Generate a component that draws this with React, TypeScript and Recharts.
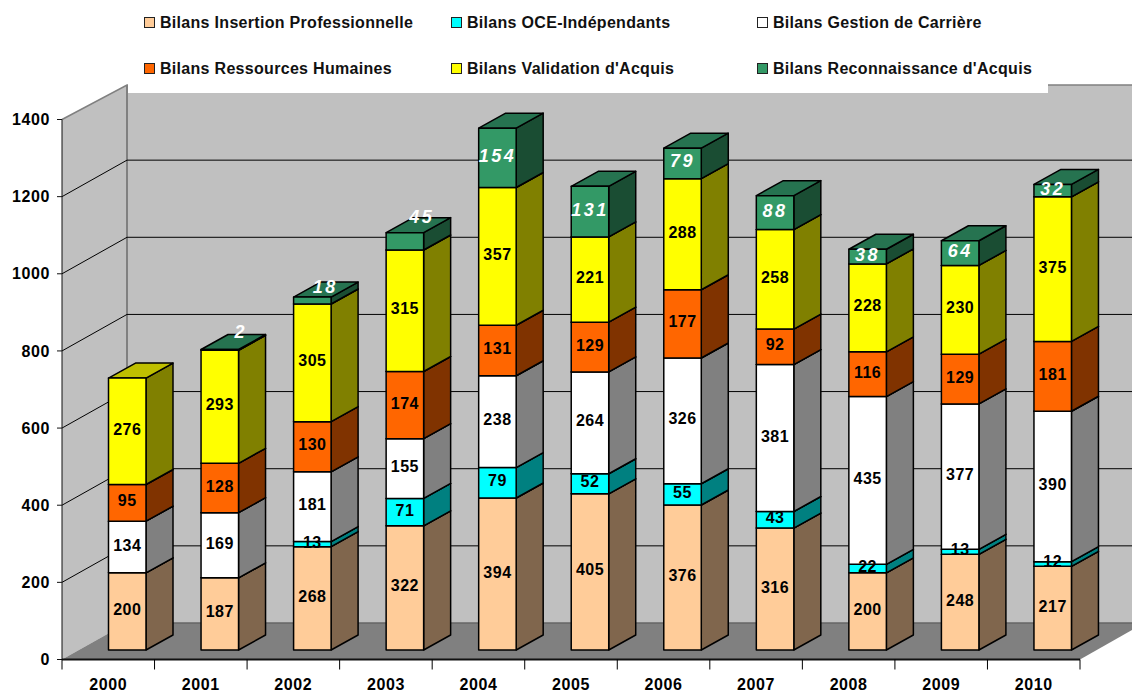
import { Bar, BarChart, CartesianGrid, LabelList, XAxis, YAxis } from "recharts";

const years = ["2000", "2001", "2002", "2003", "2004", "2005", "2006", "2007", "2008", "2009", "2010"];
const insertion = [200, 187, 268, 322, 394, 405, 376, 316, 200, 248, 217];
const oce = [0, 0, 13, 71, 79, 52, 55, 43, 22, 13, 12];
const gestion = [134, 169, 181, 155, 238, 264, 326, 381, 435, 377, 390];
const ressources = [95, 128, 130, 174, 131, 129, 177, 92, 116, 129, 181];
const validation = [276, 293, 305, 315, 357, 221, 288, 258, 228, 230, 375];
const reconnaissance = [0, 2, 18, 45, 154, 131, 79, 88, 38, 64, 32];
const yTicks = [0, 200, 400, 600, 800, 1000, 1200, 1400];

const seriesNames = [
  "Bilans Insertion Professionnelle",
  "Bilans OCE-Indépendants",
  "Bilans Gestion de Carrière",
  "Bilans Ressources Humaines",
  "Bilans Validation d'Acquis",
  "Bilans Reconnaissance d'Acquis",
];
const seriesValues = [insertion, oce, gestion, ressources, validation, reconnaissance];
const frontColors = ["#FFCC99", "#00FFFF", "#FFFFFF", "#FF6600", "#FFFF00", "#339966"];
const sideColors = ["#80664D", "#008080", "#808080", "#803300", "#808000", "#1A4D33"];
const topColors = ["#BF9973", "#00BFBF", "#BFBFBF", "#BF4D00", "#BFBF00", "#267350"];

const keys = seriesNames.map((_, i) => `s${i}`);
const rows = years.map((year, r) => {
  const row: Record<string, string | number> = { year };
  keys.forEach((k, i) => (row[k] = seriesValues[i][r]));
  return row;
});

// bars sit behind the axis plane, shifted from the band centre
const BAR_DX = 18.5;
const BAR_DY = -9.5;
const DEPTH_X = 27;
const DEPTH_Y = 15;
const WALL_DX = 65;
const WALL_DY = 36.5;
const PLOT_LEFT = 62;
const BAND = 1018 / 11;
const FONT = "'Liberation Sans', Arial, sans-serif";

// labels the author dragged off the thin top segments
const labelNudge: Record<string, [number, number]> = {
  "2001": [21, -16],
  "2002": [13, -12],
  "2003": [17, -22],
};

function makeBox(i: number) {
  return function Box(props: any) {
    const { x, y, width, height } = props;
    if (!height || height <= 0) return null;
    const l = x + BAR_DX;
    const t = y + BAR_DY;
    const r = l + width;
    const b = t + height;
    const edge = { stroke: "#000", strokeWidth: 1.5, strokeLinejoin: "round" as const };
    return (
      <g>
        <polygon
          points={`${r},${t} ${r + DEPTH_X},${t - DEPTH_Y} ${r + DEPTH_X},${b - DEPTH_Y} ${r},${b}`}
          fill={sideColors[i]}
          {...edge}
        />
        <polygon
          points={`${l},${t} ${l + DEPTH_X},${t - DEPTH_Y} ${r + DEPTH_X},${t - DEPTH_Y} ${r},${t}`}
          fill={topColors[i]}
          {...edge}
        />
        <rect x={l} y={t} width={width} height={height} fill={frontColors[i]} {...edge} />
      </g>
    );
  };
}

function makeLabel(i: number) {
  const isTop = i === 5;
  return function SegmentLabel(props: any) {
    const { value } = props;
    const box = props.viewBox ?? props;
    if (!value) return null;
    // zero segments get dropped from the index, so find the year from x
    const yearIndex = Math.floor((box.x + box.width / 2 - PLOT_LEFT) / BAND);
    const nudge = isTop ? labelNudge[years[yearIndex]] ?? [0, 0] : [0, 0];
    return (
      <text
        x={box.x + box.width / 2 + BAR_DX + nudge[0]}
        y={box.y + box.height / 2 + BAR_DY + nudge[1] - 2}
        textAnchor="middle"
        dominantBaseline="central"
        fontFamily={FONT}
        fontWeight="bold"
        fontStyle={isTop ? "italic" : "normal"}
        fontSize={isTop ? 18 : 16}
        letterSpacing={isTop ? 2.5 : 0.5}
        fill={isTop ? "#fff" : "#000"}
      >
        {value}
      </text>
    );
  };
}

function WallLine(props: any) {
  const { x1, x2, y1 } = props;
  if (y1 > 655 || y1 < 125) return null;
  return (
    <path
      d={`M${x1},${y1} L${x1 + WALL_DX},${y1 - WALL_DY} L${x2 + WALL_DX},${y1 - WALL_DY}`}
      fill="none"
      stroke="#000"
      strokeWidth={1}
    />
  );
}

function YearTick(props: any) {
  const { x, y, payload, index } = props;
  const left = x - BAND / 2;
  return (
    <g>
      <line x1={left} x2={left} y1={y - 8} y2={y + 2} stroke="#000" />
      {index === years.length - 1 && <line x1={x + BAND / 2} x2={x + BAND / 2} y1={y - 8} y2={y + 2} stroke="#000" />}
      <text x={x} y={y + 22} textAnchor="middle" fontFamily={FONT} fontWeight="bold" fontSize={16} letterSpacing={0.6} fill="#000">
        {payload.value}
      </text>
    </g>
  );
}

function LegendBlock() {
  const columns = [144, 451, 757];
  const lines = [22, 68];
  return (
    <div style={{ position: "absolute", left: 128, top: 0, width: 920, height: 93, background: "#fff" }}>
      {seriesNames.map((name, i) => (
        <div key={name}>
          <span
            style={{
              position: "absolute",
              boxSizing: "border-box",
              left: columns[i % 3] - 128,
              top: lines[Math.floor(i / 3)] - 5,
              width: 11,
              height: 11,
              background: frontColors[i],
              border: "1px solid #222",
            }}
          />
          <span
            style={{
              position: "absolute",
              left: columns[i % 3] - 128 + 16,
              top: lines[Math.floor(i / 3)] - 8,
              fontFamily: FONT,
              fontWeight: "bold",
              fontSize: 16,
              lineHeight: "18px",
              letterSpacing: 0.3,
              whiteSpace: "nowrap",
              color: "#111",
            }}
          >
            {name}
          </span>
        </div>
      ))}
    </div>
  );
}

export default function App() {
  return (
    <div style={{ position: "absolute", left: 0, top: 0, width: 1132, height: 693, background: "#fff" }}>
      {/* room behind the plot: floor and walls */}
      <svg width={1132} height={693} style={{ position: "absolute", left: 0, top: 0 }}>
        <rect x={127} y={85} width={1005} height={538} fill="#C0C0C0" />
        <polygon points="62,119.5 127,85 127,623 62,659.5" fill="#C0C0C0" />
        <polygon points="62,659.5 127,623 1132,623 1132,630 1080,659.5" fill="#808080" />
        <path d="M62,119.5 L127,85 L1132,85" fill="none" stroke="#808080" strokeWidth={1.5} />
        <line x1={127} x2={127} y1={85} y2={623} stroke="#808080" strokeWidth={2} />
        <line x1={127} x2={1132} y1={623} y2={623} stroke="#666" strokeWidth={1.5} />
      </svg>
      <BarChart
        width={1132}
        height={693}
        data={rows}
        margin={{ top: 119.5, right: 52, bottom: 0, left: 0 }}
        barSize={37.5}
        style={{ position: "absolute", left: 0, top: 0 }}
      >
        <CartesianGrid vertical={false} horizontal={WallLine} />
        <XAxis
          dataKey="year"
          height={33.5}
          stroke="#111"
          strokeWidth={2}
          tickLine={false}
          tick={YearTick}
          interval={0}
        />
        <YAxis
          width={62}
          domain={[0, 1400]}
          ticks={yTicks}
          stroke="#111"
          tickSize={5}
          tickMargin={7}
          interval={0}
          tick={{ fontFamily: FONT, fontWeight: "bold", fontSize: 16, letterSpacing: 0.6, fill: "#000" }}
        />
        <XAxis xAxisId="labels" dataKey="year" hide />
        <YAxis yAxisId="labels" domain={[0, 1400]} hide />
        {keys.map((k, i) => (
          <Bar key={k} dataKey={k} stackId="a" shape={makeBox(i)} isAnimationActive={false} />
        ))}
        {/* second transparent stack so numbers stay above every box */}
        {keys.map((k, i) => (
          <Bar
            key={`label-${k}`}
            dataKey={k}
            stackId="labels"
            xAxisId="labels"
            yAxisId="labels"
            fill="none"
            legendType="none"
            isAnimationActive={false}
          >
            <LabelList dataKey={k} content={makeLabel(i)} />
          </Bar>
        ))}
      </BarChart>
      <LegendBlock />
    </div>
  );
}
